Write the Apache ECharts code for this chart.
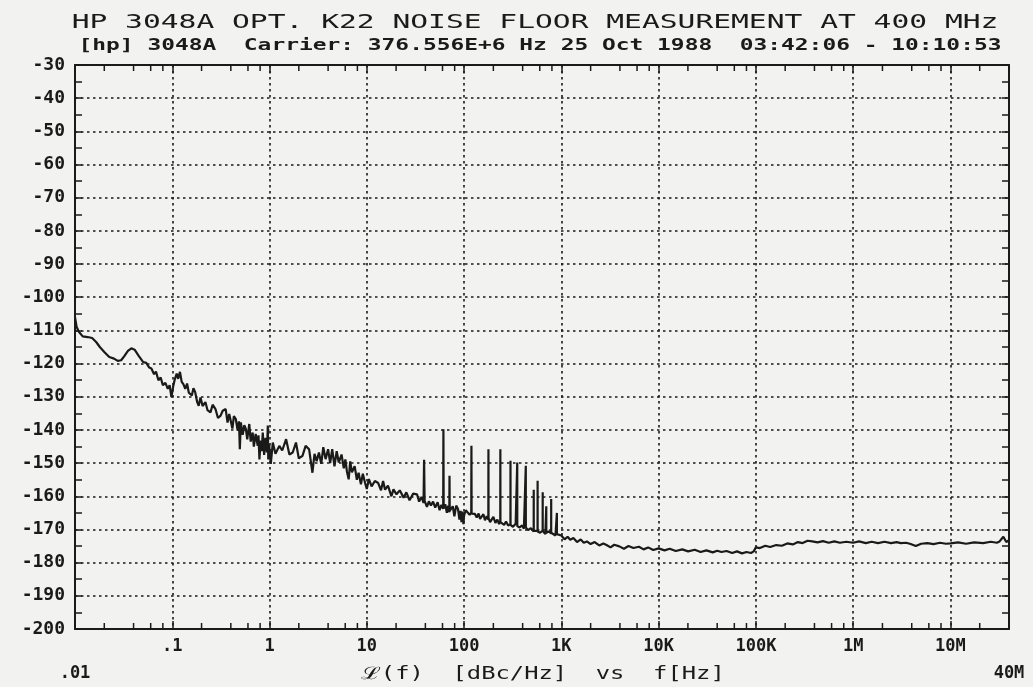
<!DOCTYPE html>
<html>
<head>
<meta charset="utf-8">
<title>HP 3048A noise floor</title>
<script src="https://cdn.jsdelivr.net/npm/echarts@6/dist/echarts.min.js"></script>
<style>
    html, body { margin: 0; padding: 0; background: #f2f2f0; }
    #main { width: 1033px; height: 687px; }
</style>
</head>
<body>
<div id="main"></div>
<script>
// texts
var titleText = 'HP 3048A OPT. K22 NOISE FLOOR MEASUREMENT AT 400 MHz';
var subText = '[hp] 3048A  Carrier: 376.556E+6 Hz 25 Oct 1988  03:42:06 - 10:10:53';
var axisNameText = 'ℒ(f)  [dBc/Hz]  vs  f[Hz]';

// x tick labels (one per decade, .01 .. 10M) and the end label
var xTickLabels = ['.01', '.1', '1', '10', '100', '1K', '10K', '100K', '1M', '10M'];
var xEndLabel = '40M';

// minor tick marks: 2,4,6,8 in every decade
var minorMult = [2, 4, 6, 8];
var decades = [0.01, 0.1, 1, 10, 100, 1e3, 1e4, 1e5, 1e6, 1e7];

// noise floor trace, [Hz, dBc/Hz]
var noiseFloor = [
    [0.0100, -106], [0.0104, -109], [0.0110, -110.5], [0.0120, -111.8], [0.0135, -112], [0.0150, -112.3],
    [0.0165, -113.5], [0.0180, -115], [0.0200, -116.5], [0.0225, -118], [0.0252, -118.5], [0.0275, -119.2],
    [0.0298, -119], [0.0320, -117.8], [0.0350, -116.2], [0.0380, -115.4], [0.0410, -115.8], [0.0450, -117.6],
    [0.0500, -119.5], [0.0540, -119.8], [0.0580, -121.2], [0.0610, -121.5], [0.0650, -123.2], [0.0680, -122.4],
    [0.0720, -125], [0.0760, -124.2], [0.0800, -126.5], [0.0850, -125.8], [0.0900, -127.6], [0.0940, -126.5],
    [0.0980, -130.1], [0.1020, -127], [0.1060, -124.8], [0.1110, -123], [0.1150, -124.6], [0.1200, -122.5],
    [0.1250, -125.5], [0.1300, -126.2], [0.1360, -127.6], [0.1420, -126], [0.1480, -128.8], [0.1590, -129.6],
    [0.1650, -127.4], [0.1720, -128.6], [0.1800, -131.5], [0.1870, -132.7], [0.1950, -130.2], [0.2050, -132.8],
    [0.2190, -131.6], [0.2300, -134], [0.2470, -134.7], [0.2600, -132.4], [0.2780, -133.7], [0.2950, -136.4],
    [0.3140, -135.7], [0.3300, -134.2], [0.3540, -133.7], [0.3700, -137.8], [0.3850, -135.2], [0.3990, -137.2],
    [0.4150, -139.6], [0.4300, -135.8], [0.4500, -136.7], [0.4700, -140.2], [0.4850, -137.4], [0.4950, -145.8],
    [0.5070, -137.7], [0.5300, -141.5], [0.5500, -138.6], [0.5710, -139.7], [0.5900, -142.8], [0.6190, -138.2],
    [0.6400, -143.5], [0.6700, -140.8], [0.6900, -145], [0.7200, -141.2], [0.7560, -144.8], [0.7700, -141.6],
    [0.7870, -148.9], [0.8100, -143.2], [0.8300, -146.4], [0.8520, -140.8], [0.8800, -147.5], [0.9100, -142.4],
    [0.9400, -146.8], [0.9600, -138.7], [0.9700, -148.9], [0.9900, -144.5], [1.030, -150.2], [1.080, -143.8],
    [1.150, -147.2], [1.260, -144.8], [1.350, -146.2], [1.480, -142.8], [1.600, -147.4], [1.730, -146.8],
    [1.870, -143.8], [2.000, -148.6], [2.180, -147.8], [2.350, -144.8], [2.550, -145.8], [2.760, -152.9],
    [2.900, -147.2], [3.050, -149.4], [3.220, -146.8], [3.400, -150.2], [3.570, -145.2], [3.770, -148.8],
    [4.000, -145.8], [4.200, -150], [4.410, -145.8], [4.650, -151], [4.900, -146.4], [5.150, -149.8],
    [5.500, -147.4], [5.800, -151.6], [6.020, -148.9], [6.250, -152.6], [6.510, -154.9], [6.750, -149.5],
    [7.030, -152.8], [7.500, -150.9], [7.900, -155], [8.230, -152.9], [8.700, -156.4], [9.100, -153.2],
    [9.600, -156], [10.00, -157.8], [10.50, -154.8], [11.20, -157], [12.10, -155.4], [13.10, -156],
    [14.00, -158.2], [14.70, -155.4], [15.40, -158], [16.50, -156.8], [17.90, -160], [18.80, -157.9],
    [20.20, -159.4], [21.80, -158.2], [23.90, -160.4], [25.50, -158.8], [27.50, -161.2], [30.00, -159.2],
    [32.80, -159.4], [34.50, -161.6], [36.50, -160.2], [38.30, -162], [38.80, -149], [39.30, -161.4],
    [41.50, -163.2], [43.50, -161.5], [45.60, -162.8], [48.00, -161.6], [50.50, -163.4], [53.50, -161.8],
    [56.00, -164.2], [58.50, -162.6], [61.00, -163.8], [61.30, -139.8], [61.70, -163.6], [64.00, -162.4],
    [66.50, -165], [68.50, -162.8], [70.50, -164.8], [70.80, -153.8], [71.20, -164.4], [73.70, -164.8],
    [76.50, -163], [79.50, -166], [83.00, -162.8], [86.60, -163.8], [89.50, -167], [92.00, -164.4],
    [94.00, -167.8], [96.50, -164.6], [98.50, -168.4], [100.0, -165.8], [104.0, -164.2], [109.0, -164.8],
    [114.0, -165.6], [118.5, -164.8], [119.0, -144.8], [119.5, -165.2], [124.0, -164.8], [129.0, -165.3],
    [135.0, -166.4], [141.0, -165.2], [146.0, -166.8], [152.0, -166.3], [158.0, -165.4], [164.0, -167.2],
    [171.0, -166], [177.5, -167], [178.0, -145.8], [178.5, -166.6], [185.0, -167.8], [193.0, -167.3],
    [200.0, -166.2], [210.0, -168], [220.0, -167], [229.0, -168.4], [235.5, -167.6], [236.0, -145.8],
    [236.5, -167.8], [245.0, -167.8], [258.0, -168.6], [270.0, -167.6], [284.0, -168.8], [299.5, -168.4],
    [300.0, -149.3], [300.5, -168.6], [318.0, -169.2], [339.0, -168.3], [351.5, -168.8], [352.0, -149.8],
    [352.5, -169], [372.0, -169.4], [395.0, -168.8], [412.0, -169.8], [430.5, -169.3], [431.0, -150.8],
    [431.5, -169.4], [455.0, -170.2], [485.0, -169.6], [519.5, -170.6], [520.0, -158], [520.5, -170.4],
    [545.0, -170], [569.5, -170.4], [570.0, -155.3], [570.5, -170.6], [605.0, -171], [642.5, -170.3],
    [643.0, -158.8], [643.5, -170.5], [685.0, -171.4], [699.5, -170.8], [700.0, -163], [700.5, -171],
    [740.0, -170.6], [785.5, -171.2], [786.0, -160.8], [786.5, -171], [818.0, -170.8], [870.0, -171.8],
    [899.5, -171.2], [900.0, -165], [900.5, -171.4], [930.0, -171.2], [1000, -171.8], [1080, -173],
    [1160, -172.2], [1233, -173.1], [1330, -172.6], [1450, -173.8], [1580, -173], [1700, -174],
    [1830, -173.6], [2000, -174.4], [2200, -173.8], [2450, -174.8], [2700, -174.2], [2914, -174.7],
    [3200, -175.4], [3500, -174.6], [3946, -175.1], [4400, -175.8], [4900, -175], [5500, -175.6],
    [6280, -175.2], [7000, -176], [7800, -175.4], [8800, -176.2], [10000, -175.7], [11500, -176.3],
    [13000, -175.8], [15000, -176.5], [17500, -176], [20100, -176.6], [23500, -176.1], [27000, -176.8],
    [31000, -176.3], [36000, -176.9], [40000, -176.4], [44300, -176.8], [50000, -176.5], [57000, -177.1],
    [64000, -176.6], [72000, -177.2], [80000, -176.8], [89000, -177.1], [95000, -176.6], [100000, -175.4],
    [110000, -175.6], [125000, -174.9], [140000, -175.3], [162000, -174.7], [185000, -174.9], [210000, -174.2],
    [240000, -174.5], [270000, -173.8], [302000, -174.1], [340000, -173.4], [380000, -173.6], [430000, -173.9],
    [490000, -173.5], [560000, -174], [640000, -173.6], [730000, -174], [850000, -173.7], [1000000, -174],
    [1150000, -173.6], [1350000, -174.1], [1550000, -173.7], [1800000, -174.1], [2100000, -173.7], [2450000, -174.1],
    [2800000, -173.8], [3090000, -174.1], [3500000, -174], [3900000, -174.4], [4400000, -175], [5000000, -174.3],
    [5800000, -174.1], [6700000, -174.4], [7800000, -174], [9000000, -174.3], [10000000, -174.2], [12000000, -173.9],
    [14500000, -174.3], [17500000, -173.9], [21700000, -174.1], [26000000, -173.7], [30000000, -174], [32000000, -173.6],
    [35000000, -172.2], [37500000, -173.8], [40000000, -173.2]
];

var ink = '#1a1a1a';
var plotFont = '"DejaVu Sans Mono", monospace';

var minorTicks = [];
for (var d = 0; d < decades.length; d++) {
    for (var m = 0; m < minorMult.length; m++) {
        var f = decades[d] * minorMult[m];
        if (f < 4e7) minorTicks.push([f, -200]);
    }
}

var myChart = echarts.init(document.getElementById('main'));

var option = {
    backgroundColor: '#f2f2f0',
    animation: false,
    grid: {left: 75, right: 24, top: 65, bottom: 57},
    graphic: [
        {
            type: 'text', x: 535, y: 23, scaleX: 1.48,
            style: {text: titleText, font: '20px ' + plotFont, fill: ink, align: 'center', verticalAlign: 'middle'}
        },
        {
            type: 'text', x: 540, y: 46, scaleX: 1.43,
            style: {text: subText, font: 'bold 16px ' + plotFont, fill: ink, align: 'center', verticalAlign: 'middle'}
        },
        {
            type: 'text', x: 543, y: 675, scaleX: 1.4,
            style: {text: axisNameText, font: '17px ' + plotFont, fill: ink, align: 'center', verticalAlign: 'middle'}
        }
    ],
    xAxis: [{
        type: 'log',
        logBase: 10,
        min: 0.01,
        max: 4e7,
        axisLine: {show: true, onZero: false, lineStyle: {color: ink, width: 2}},
        axisTick: {show: true, inside: true, length: 8, lineStyle: {color: ink, width: 1.5}},
        splitLine: {show: true, lineStyle: {color: ink, width: 1.6, type: [2.5, 3.5]}},
        axisLabel: {
            show: true,
            showMinLabel: true,
            showMaxLabel: true,
            margin: 4,
            lineHeight: 27,
            color: ink,
            fontFamily: plotFont,
            fontSize: 17,
            fontWeight: 'bold',
            formatter: function (val) {
                if (val >= 3.9e7) return '\n' + xEndLabel;
                var i = Math.round(Math.log10(val)) + 2;
                if (i === 0) return '\n' + xTickLabels[0];
                return xTickLabels[i] || '';
            }
        }
    }, {
        type: 'log',
        logBase: 10,
        position: 'top',
        min: 0.01,
        max: 4e7,
        axisLine: {show: true, onZero: false, lineStyle: {color: ink, width: 2}},
        axisTick: {show: true, inside: true, length: 8, lineStyle: {color: ink, width: 1.5}},
        axisLabel: {show: false},
        splitLine: {show: false}
    }],
    yAxis: [{
        type: 'value',
        min: -200,
        max: -30,
        interval: 10,
        axisLine: {show: true, onZero: false, lineStyle: {color: ink, width: 2}},
        axisTick: {show: true, inside: true, length: 7, lineStyle: {color: ink, width: 1.5}},
        minorTick: {show: true, splitNumber: 2, length: 7, lineStyle: {color: ink, width: 1.5}},
        splitLine: {show: true, lineStyle: {color: ink, width: 1.6, type: [2.5, 3.5]}},
        axisLabel: {margin: 10, color: ink, fontFamily: plotFont, fontSize: 18, fontWeight: 'bold'}
    }, {
        type: 'value',
        position: 'right',
        min: -200,
        max: -30,
        interval: 10,
        axisLine: {show: true, onZero: false, lineStyle: {color: ink, width: 2}},
        axisTick: {show: true, inside: true, length: 7, lineStyle: {color: ink, width: 1.5}},
        minorTick: {show: true, splitNumber: 2, length: 7, lineStyle: {color: ink, width: 1.5}},
        splitLine: {show: false},
        axisLabel: {show: false}
    }],
    series: [{
        name: 'minor ticks',
        type: 'custom',
        silent: true,
        xAxisIndex: 0,
        yAxisIndex: 0,
        data: minorTicks,
        renderItem: function (params, api) {
            var bottom = api.coord([api.value(0), -200]);
            var top = api.coord([api.value(0), -30]);
            return {
                type: 'group',
                children: [
                    {type: 'line', shape: {x1: bottom[0], y1: bottom[1], x2: bottom[0], y2: bottom[1] - 6}, style: {stroke: ink, lineWidth: 1.5}},
                    {type: 'line', shape: {x1: top[0], y1: top[1], x2: top[0], y2: top[1] + 6}, style: {stroke: ink, lineWidth: 1.5}}
                ]
            };
        }
    }, {
        name: 'L(f)',
        type: 'line',
        xAxisIndex: 0,
        yAxisIndex: 0,
        data: noiseFloor,
        showSymbol: false,
        symbol: 'none',
        sampling: null,
        lineStyle: {color: ink, width: 2.2}
    }]
};

myChart.setOption(option);
</script>
</body>
</html>
